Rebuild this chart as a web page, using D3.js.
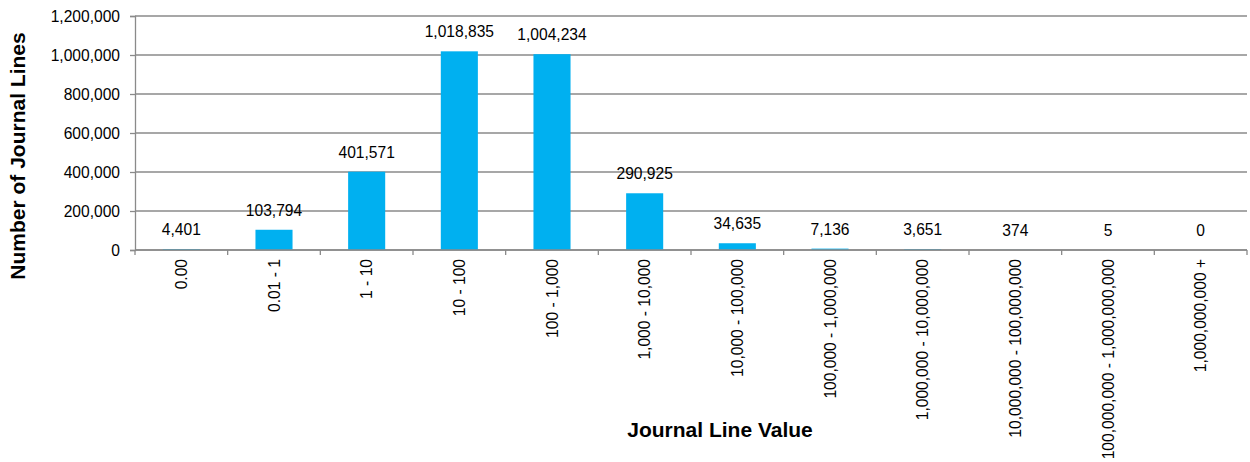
<!DOCTYPE html>
<html>
<head>
<meta charset="utf-8">
<script src="https://cdn.jsdelivr.net/npm/d3@7"></script>
<style>
  html, body { margin: 0; padding: 0; background: #fff; }
  svg { display: block; font-family: "Liberation Sans", Arial, sans-serif; }
</style>
</head>
<body>
<svg id="chart" width="1250" height="462"></svg>
<script>
// Journal line value buckets and the number of lines in each
const categories = [
  "0.00", "0.01 - 1", "1 - 10", "10 - 100", "100 - 1,000", "1,000 - 10,000",
  "10,000 - 100,000", "100,000 - 1,000,000", "1,000,000 - 10,000,000",
  "10,000,000 - 100,000,000", "100,000,000 - 1,000,000,000", "1,000,000,000 +"
];
const lineCounts = [4401, 103794, 401571, 1018835, 1004234, 290925, 34635, 7136, 3651, 374, 5, 0];
const yTicks = [0, 200000, 400000, 600000, 800000, 1000000, 1200000];

const svg = d3.select("#chart");
const margin = { left: 135, right: 3, top: 16, bottom: 212 };
const W = 1250, H = 462;
const fmt = d3.format(",");
const labelSize = 15.6;

const x = d3.scaleBand()
  .domain(categories)
  .range([margin.left, W - margin.right])
  .paddingInner(0.6)
  .paddingOuter(0.3);

const y = d3.scaleLinear()
  .domain([0, 1200000])
  .range([H - margin.bottom, margin.top]);

const grid = "#8a8a8a";

// horizontal gridlines
svg.append("g")
  .selectAll("line")
  .data(yTicks)
  .join("line")
  .attr("x1", margin.left)
  .attr("x2", W - margin.right)
  .attr("y1", d => y(d))
  .attr("y2", d => y(d))
  .attr("stroke", grid)
  .attr("stroke-width", 1.3);

// y axis
const yAxis = svg.append("g")
  .attr("transform", `translate(${margin.left},0)`)
  .call(d3.axisLeft(y).tickValues(yTicks).tickFormat(fmt).tickSize(5).tickPadding(10));
yAxis.select(".domain").attr("stroke", grid).attr("stroke-width", 1.3);
yAxis.selectAll(".tick line").attr("stroke", grid).attr("stroke-width", 1.3);
yAxis.selectAll("text").attr("font-size", labelSize).attr("fill", "#000")
  .attr("font-family", "Liberation Sans, Arial, sans-serif");

// bars
svg.append("g")
  .selectAll("rect")
  .data(categories)
  .join("rect")
  .attr("x", d => x(d))
  .attr("width", x.bandwidth())
  .attr("y", (d, i) => y(lineCounts[i]))
  .attr("height", (d, i) => y(0) - y(lineCounts[i]))
  .attr("fill", "#00b0f0");

// x axis with ticks on band boundaries
const bounds = d3.range(categories.length + 1).map(i => margin.left + i * (W - margin.right - margin.left) / categories.length);
const xg = svg.append("g");
xg.append("line")
  .attr("x1", margin.left).attr("x2", W - margin.right)
  .attr("y1", y(0)).attr("y2", y(0))
  .attr("stroke", grid).attr("stroke-width", 1.5);
xg.selectAll("line.tk")
  .data(bounds)
  .join("line")
  .attr("class", "tk")
  .attr("x1", d => d).attr("x2", d => d)
  .attr("y1", y(0)).attr("y2", y(0) + 5)
  .attr("stroke", grid).attr("stroke-width", 1.3);

// category labels, rotated
xg.selectAll("text")
  .data(categories)
  .join("text")
  .attr("transform", d => `translate(${x(d) + x.bandwidth() / 2 + 5.6},${y(0) + 9}) rotate(-90)`)
  .attr("text-anchor", "end")
  .attr("font-size", labelSize)
  .attr("fill", "#000")
  .text(d => d);

// value labels
svg.append("g")
  .selectAll("text")
  .data(categories)
  .join("text")
  .attr("x", d => x(d) + x.bandwidth() / 2)
  .attr("y", (d, i) => y(lineCounts[i]) - 14)
  .attr("text-anchor", "middle")
  .attr("font-size", labelSize)
  .attr("fill", "#000")
  .text((d, i) => fmt(lineCounts[i]));

// axis titles
svg.append("text")
  .attr("transform", "translate(25,156) rotate(-90)")
  .attr("text-anchor", "middle")
  .attr("font-size", 21)
  .attr("font-weight", "bold")
  .text("Number of Journal Lines");

svg.append("text")
  .attr("x", 720)
  .attr("y", 437)
  .attr("text-anchor", "middle")
  .attr("font-size", 21)
  .attr("font-weight", "bold")
  .text("Journal Line Value");
</script>
</body>
</html>
